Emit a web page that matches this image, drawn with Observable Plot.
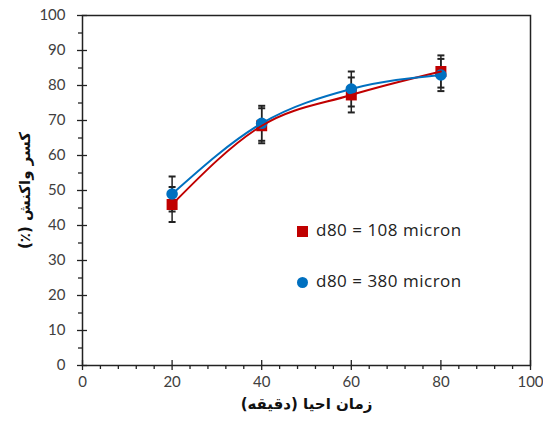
<!DOCTYPE html>
<html><head><meta charset="utf-8">
<script src="https://cdn.jsdelivr.net/npm/d3@7"></script>
<script src="https://cdn.jsdelivr.net/npm/@observablehq/plot@0.6"></script>
<style>
body{margin:0;background:#fff;}
#wrap{position:relative;width:543px;height:433px;}
.leg{position:absolute;font-family:"Open Sans",Lato,sans-serif;font-size:17px;letter-spacing:0.5px;color:#222;white-space:nowrap;line-height:1;}
.sw{position:absolute;}
</style></head><body><div id="wrap"></div>
<script>
const times = [20, 40, 60, 80];
const values108 = [46, 68.5, 77.3, 84];
const errors108 = [5, 5, 5, 4.6];
const values380 = [49, 69.2, 79, 83];
const errors380 = [5, 5, 5, 4.6];
const seriesNames = ["d80 = 108 micron", "d80 = 380 micron"];
const seriesColors = ["#C00000", "#0070C0"];
const xTicks = [0, 20, 40, 60, 80, 100];
const xMinorTicks = [4, 8, 12, 16, 24, 28, 32, 36, 44, 48, 52, 56, 64, 68, 72, 76, 84, 88, 92, 96];
const yTicks = [0, 10, 20, 30, 40, 50, 60, 70, 80, 90, 100];
const yMinorTicks = [5, 15, 25, 35, 45, 55, 65, 75, 85, 95];
const xTitle = "زمان احیا (دقیقه)";
const yTitle = "کسر واکنش (٪)";

const mk = (vals, errs) => times.map((t, i) => ({t, v: vals[i], lo: vals[i] - errs[i], hi: vals[i] + errs[i]}));
const d108 = mk(values108, errors108);
const d380 = mk(values380, errors380);
const all = d108.concat(d380);

const capSymbol = {draw(ctx) { ctx.moveTo(-3.5, 0); ctx.lineTo(3.5, 0); }};
const tickFont = "Lato, 'Open Sans', sans-serif";
const titleFont = "'DejaVu Sans', sans-serif";

const chart = Plot.plot({
  width: 543, height: 433,
  marginLeft: 82, marginRight: 13, marginTop: 15, marginBottom: 68,
  style: {fontFamily: tickFont, fontSize: "15px", color: "#404040", background: "#fff"},
  x: {domain: [0, 100]},
  y: {domain: [0, 100]},
  marks: [
    Plot.axisX(xTicks, {label: null, tickSize: 10, dy: -5, tickPadding: 6, stroke: "#222", strokeWidth: 1.3, fill: "#404040"}),
    Plot.axisX(xMinorTicks, {label: null, tickSize: 4, tickFormat: () => "", stroke: "#222", strokeWidth: 1.3}),
    Plot.axisY(yTicks, {label: null, tickSize: 10, dx: 5, tickPadding: 12, stroke: "#222", strokeWidth: 1.3, fill: "#404040"}),
    Plot.axisY(yMinorTicks, {label: null, tickSize: 4, tickFormat: () => "", stroke: "#222", strokeWidth: 1.3}),
    Plot.frame({stroke: "#222", strokeWidth: 1.5}),
    Plot.ruleX(all, {x: "t", y1: "lo", y2: "hi", stroke: "#222", strokeWidth: 1.5}),
    Plot.dot(all, {x: "t", y: "hi", symbol: capSymbol, stroke: "#222", strokeWidth: 2}),
    Plot.dot(all, {x: "t", y: "lo", symbol: capSymbol, stroke: "#222", strokeWidth: 2}),
    Plot.dot(d108, {x: "t", y: "v", symbol: "square", r: 6.2, fill: seriesColors[0]}),
    Plot.dot(d380, {x: "t", y: "v", symbol: "circle", r: 5.8, fill: seriesColors[1]}),
    Plot.line(d108, {x: "t", y: "v", stroke: seriesColors[0], strokeWidth: 2, curve: "monotone-x"}),
    Plot.line(d380, {x: "t", y: "v", stroke: seriesColors[1], strokeWidth: 2, curve: "monotone-x"}),
    Plot.text([xTitle], {frameAnchor: "bottom", dy: 43, textAnchor: "middle", fontFamily: titleFont, fontWeight: "bold", fontSize: 15, fill: "#111"}),
    Plot.text([yTitle], {frameAnchor: "left", dx: -57, rotate: -90, textAnchor: "middle", fontFamily: titleFont, fontWeight: "bold", fontSize: 15, fill: "#111"})
  ]
});
chart.querySelectorAll("text").forEach(t => {
  if (t.textContent === xTitle || t.textContent === yTitle) {
    t.setAttribute("direction", "rtl");
    t.style.direction = "rtl";
    t.style.unicodeBidi = "embed";
  }
});
const wrap = document.getElementById("wrap");
wrap.appendChild(chart);

// legend overlay
const legendItems = [
  {name: seriesNames[0], color: seriesColors[0], shape: "square", top: 231},
  {name: seriesNames[1], color: seriesColors[1], shape: "circle", top: 282}
];
legendItems.forEach(it => {
  const sw = document.createElement("div");
  sw.className = "sw";
  sw.style.left = "297px"; sw.style.top = (it.top - 5.5) + "px";
  sw.style.width = "11px"; sw.style.height = "11px";
  sw.style.background = it.color;
  if (it.shape === "circle") sw.style.borderRadius = "50%";
  wrap.appendChild(sw);
  const tx = document.createElement("div");
  tx.className = "leg";
  tx.textContent = it.name;
  tx.style.left = "316px"; tx.style.top = (it.top - 10) + "px";
  wrap.appendChild(tx);
});
</script></body></html>
